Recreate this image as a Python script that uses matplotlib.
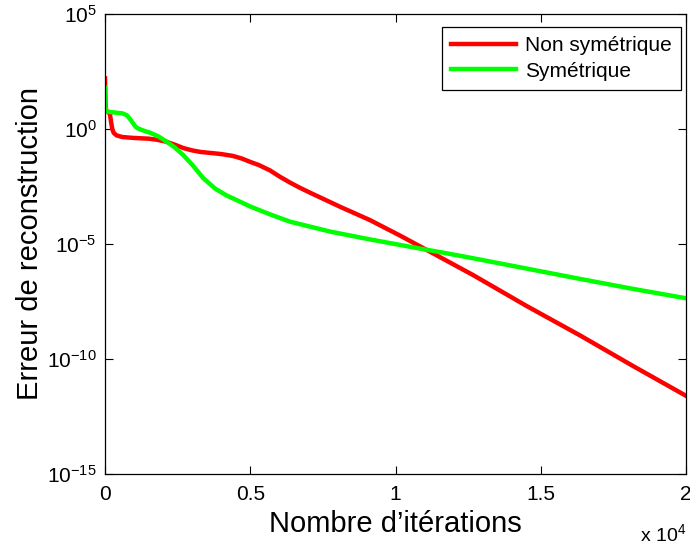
import numpy as np
import matplotlib
matplotlib.use("Agg")
import matplotlib.pyplot as plt

plt.rcParams['font.family'] = ['Liberation Sans', 'DejaVu Sans']
plt.rcParams['mathtext.fontset'] = 'custom'
plt.rcParams['mathtext.rm'] = 'Liberation Sans'
plt.rcParams['mathtext.it'] = 'Liberation Sans'
plt.rcParams['mathtext.default'] = 'regular'

# Non symétrique (iterations, log10 error)
red_iter = [0, 15, 40, 120, 170, 210, 250, 300, 400, 600, 1000, 1500, 1800,
            2100, 2400, 2700, 3000, 3300, 3700, 4000, 4400, 4700, 5000, 5300,
            5680, 6000, 6370, 6700, 7060, 8090, 9120, 10150, 11180, 12670,
            14520, 16360, 18170, 20000]
red_log = [2.2, 1.2, 0.8, 0.72, 0.65, 0.3, 0.0, -0.17, -0.28, -0.35, -0.39,
           -0.42, -0.47, -0.55, -0.68, -0.83, -0.93, -1.0, -1.05, -1.09,
           -1.17, -1.28, -1.43, -1.57, -1.8, -2.06, -2.33, -2.55, -2.77,
           -3.38, -3.96, -4.63, -5.33, -6.35, -7.7, -8.98, -10.3, -11.6]

# Symétrique
green_iter = [0, 15, 40, 300, 600, 750, 850, 960, 1050, 1140, 1350, 1550,
              1850, 2120, 2400, 2690, 3000, 3384, 3800, 4200, 4530, 5000,
              5700, 6370, 7750, 9120, 10500, 11870, 12670, 14520, 16360,
              18170, 20000]
green_log = [1.8, 1.0, 0.76, 0.72, 0.68, 0.6, 0.45, 0.26, 0.1, 0.02, -0.08,
             -0.16, -0.33, -0.55, -0.8, -1.13, -1.55, -2.14, -2.6, -2.9,
             -3.09, -3.37, -3.72, -4.03, -4.46, -4.8, -5.12, -5.43, -5.62,
             -6.07, -6.52, -6.95, -7.36]

x_ticks = [0, 5000, 10000, 15000, 20000]
x_ticklabels = ['0', '0.5', '1', '1.5', '2']
y_ticks_exp = [5, 0, -5, -10, -15]

fig = plt.figure(figsize=(6.9, 5.45), dpi=100)
ax = fig.add_axes([105/690, 1-474/545, 581/690, 460/545])

red = np.power(10.0, red_log)
green = np.power(10.0, green_log)
ax.semilogy(red_iter, red, color=(1, 0, 0), lw=3.2, label='Non symétrique',
            solid_joinstyle='round')
ax.semilogy(green_iter, green, color=(0, 1, 0), lw=3.2, label='Symétrique',
            solid_joinstyle='round')

ax.set_xlim(0, 20000)
ax.set_ylim(1e-15, 1e5)
ax.set_xticks(x_ticks)
ax.set_xticklabels(x_ticklabels)
ax.set_yticks([10.0**e for e in y_ticks_exp])
ax.set_yticklabels(['$10^{%s}$' % (('\u2212%d' % -e) if e < 0 else '%d' % e)
                    for e in y_ticks_exp])
ax.yaxis.set_minor_locator(matplotlib.ticker.NullLocator())
ax.tick_params(axis='both', which='major', direction='in', length=6, width=0.8,
               labelsize=15, top=True, right=True)
ax.tick_params(axis='x', pad=8)
ax.tick_params(axis='y', pad=6)
for s in ax.spines.values():
    s.set_linewidth(0.9)

ax.set_xlabel('Nombre d\u2019itérations', fontsize=21, labelpad=4)
ax.set_ylabel('Erreur de reconstruction', fontsize=21, labelpad=2)
fig.text(640/690, 1-534/545, 'x 10$^4$', fontsize=14, ha='left', va='center')

leg = ax.legend(loc='upper right', bbox_to_anchor=(681/690, 1-27/545),
                bbox_transform=fig.transFigure, fontsize=15, handlelength=3.1,
                handletextpad=0.45, borderaxespad=0, fancybox=False,
                edgecolor='black', framealpha=1, borderpad=0.45,
                labelspacing=0.3)
leg.get_frame().set_linewidth(0.9)

fig.savefig('out.png', dpi=100)
